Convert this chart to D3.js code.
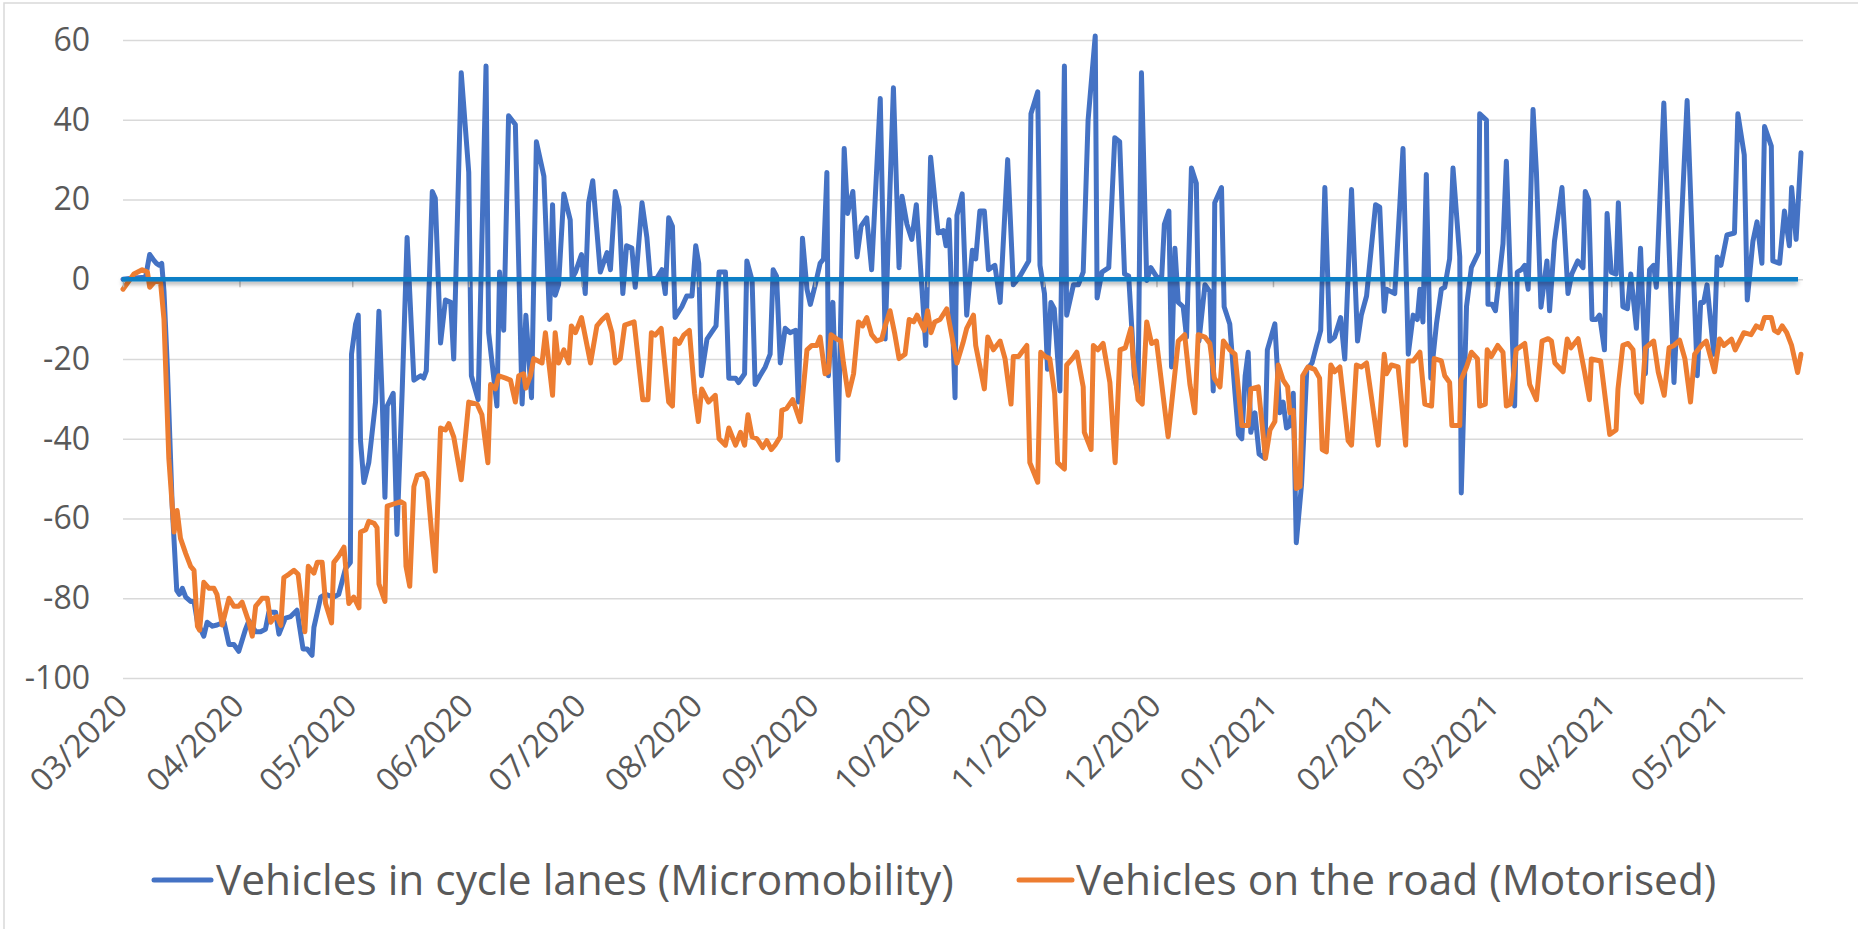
<!DOCTYPE html>
<html>
<head>
<meta charset="utf-8">
<script src="https://cdn.jsdelivr.net/npm/d3@7"></script>
<style>
  body { margin: 0; background: #fff; }
  svg { display: block; font-family: "Open Sans", sans-serif; }
</style>
</head>
<body>
<div id="chart"></div>
<script>
// change vs baseline (%), points read as [days after 1 March 2020, value]
var startDate = new Date(2020, 2, 1);
var lastDay = 446.5;

var cycleLanes = [
  [0,0],[3,0.3],[6,0.5],[7.1,6.2],[8,5],[8.9,4],[9.7,3.5],[10.3,4],[10.9,-3],[11.8,-22],[13.1,-57],[14.3,-78],[15,-79],[15.8,-77.5],[16.7,-79.7],[18,-80.8],[18.9,-80.8],[19.8,-86],[21.5,-89.5],[22.4,-86],[23.8,-87],[25,-86.7],[26.9,-86],[28.2,-91.6],[29.5,-91.6],[30.8,-93.3],[32.6,-87.8],[33.5,-85.6],[35.3,-88.4],[36.6,-88.4],[37.9,-87.8],[38.8,-83.5],[40.6,-83.5],[41.5,-89],[43.2,-85],
  [44.6,-84.6],[46.3,-83],[47.9,-92.7],[49,-92.7],[50.3,-94.3],[50.8,-87.3],[52.6,-79.7],[53.9,-79],[56.1,-79.7],[57.4,-79],[59.2,-72.6],[60.5,-71],[60.8,-18.8],[61.9,-11.2],[62.6,-9],[63.2,-40.5],[64.1,-51],[65.4,-46],[67.2,-30.8],[68.1,-8],[69,-30.8],[69.7,-54.7],[70.3,-31.8],[71.9,-28.6],[72.9,-64],[74.3,-27.7],[75.6,10.5],[77.4,-25.3],[79.2,-24.2],[80,-24.8],[80.7,-23],[82.3,22],[83.1,20.3],[84.5,-16],[85.8,-5.2],[87.2,-5.8],
  [88,-20],[90,51.8],[92,26.8],[92.7,-24.2],[94.5,-30.2],[96.6,53.5],[97.3,-13.4],[99.5,-31.8],[100.2,1.8],[101.3,-12.8],[102.6,41],[104.4,38.8],[106.2,-31.3],[107.2,-9],[108.7,-29.7],[110,34.5],[112,25.8],[113.5,-10.1],[114.3,18.7],[115,-4],[115.9,-1.4],[117.3,21.4],[119,14.9],[119.5,0.2],[120.4,1.8],[122,6.2],[123,-3.6],[123.9,19.2],[125,24.7],[127,1.8],[128.8,6.7],[129.7,2.4],[131,22],[132,18.1],[133,-3.6],
  [134,8.4],[135.4,7.8],[136.3,-2],[138.1,19.2],[139.4,10.5],[140.3,0.2],[142,0.2],[143.4,2.4],[144.3,-3.6],[145.2,15.4],[146.2,13.3],[146.9,-9.6],[148.7,-6.9],[150,-4.2],[151.4,-4.2],[152.4,8.4],[153.2,4],[153.9,-24.2],[155.4,-15],[156.7,-13.2],[157.8,-11.7],[158.6,1.8],[160.3,1.8],[161.2,-24.8],[163,-24.8],[163.8,-25.9],[165.4,-23.7],[166,4.6],[167.4,-0.3],[168.2,-26.4],[169.5,-24.2],[170.9,-22],[172.2,-18.8],[173,2.4],[173.9,0.8],[174.9,-21],[176.2,-12.3],[177.5,-13.4],
  [179,-12.8],[179.7,-30.8],[180.8,10.3],[182,-2.5],[182.9,-6.3],[184.2,-1.4],[185.5,4],[186.4,5.1],[187.3,26.8],[187.7,-24.2],[188.9,-5.8],[190.2,-45.4],[191.9,32.8],[192.8,16.5],[194.2,22],[195.3,5.6],[196.4,13.3],[197.9,15.4],[199.2,2.4],[201.5,45.3],[202.8,-15],[203.7,12],[205,48],[206.5,2.9],[207.3,20.8],[208.6,13.8],[209.9,10],[211.1,18.7],[213.6,-16.6],[214.9,30.6],[216.9,11.6],[218.3,12.2],[219,8.4],[219.8,14.9],[221.4,-29.7],[221.9,16],[223.3,21.4],
  [224.5,-9],[226,7.3],[226.9,5.1],[228,17.1],[229.2,17.1],[230.3,2.4],[232,3.5],[233.4,-5.8],[235.4,30],[236.9,-1.4],[238.7,0.8],[241,4.6],[241.6,41.5],[243.4,47],[244,3.5],[245.2,-3.6],[246,-22.6],[246.9,-5.8],[247.8,-7.4],[249.3,-28],[250.5,53.5],[251.1,-9],[252.9,-1.4],[254.2,-1.4],[255.5,1.8],[256.8,39.9],[258.7,61],[259.2,-4.7],[260.5,1.8],[262.3,2.9],[263.9,35.5],[265.2,34.5],[266.5,1.3],[267.6,0.8],
  [268.5,-13.4],[269.1,-24.2],[270.1,-28.6],[271,51.8],[272.4,-0.3],[273.5,2.9],[275.3,0.2],[276.4,0.8],[277.1,13.8],[278.3,17.1],[279,-22],[279.9,7.8],[280.8,-5.8],[282.1,-6.9],[283,-14.5],[284.3,27.9],[285.6,24.1],[286.3,-15.5],[287.9,-1.4],[289.2,-3.1],[290.1,-28],[290.5,19.2],[292.3,23],[293,-6.9],[294.5,-11.2],[295.9,-28.6],[296.8,-38.9],[297.7,-40],[298.6,-24.2],[299.4,-18.3],[300.1,-38.4],[301.2,-33.5],[302.3,-43.8],[303.8,-44.9],[304.5,-17.7],[306.5,-11.2],[307.8,-33.5],[308.7,-30.8],[309.6,-37.3],[310.5,-36.7],[311.4,-28.6],[312.2,-66.1],
  [313.6,-51.4],[315,-22.6],[316.4,-21],[317.6,-16.6],[318.7,-12.8],[319.8,23],[321.1,-15.5],[322.4,-14.5],[324,-9.6],[325.1,-20],[326.9,22.5],[328.5,-15.5],[329.5,-9],[330.9,-4.2],[333.3,18.7],[334.4,18.1],[335.6,-8],[336.2,-2.5],[338.4,-3.6],[340.6,32.8],[342,-18.8],[343.3,-9],[344.4,-10.1],[345.1,-2.5],[345.9,-10.7],[346.8,26.3],[348,-24.8],[349.5,-11.2],[350.8,-2.5],[351.7,-2],[353,5.1],[353.9,27.9],[355.7,5.6],[356.1,-53.6],[357.5,-6.8],[358.8,3],
  [360.7,6.7],[361,41.5],[362.8,39.9],[363.2,-6.3],[364.3,-6.3],[365.2,-7.9],[367.2,8.9],[368.1,29.6],[370.3,-31.8],[371,1.8],[372.1,2.4],[373,3.5],[373.9,-2.5],[375.2,42.6],[376.1,26.8],[377.3,-7],[378.9,4.6],[379.6,-7.9],[380.9,9.5],[382.9,23],[384.5,-3.6],[385.5,1.3],[387.1,4.6],[388.5,2.9],[389.1,22],[390,19.9],[390.9,-10.1],[392,-10.1],[392.9,-9],[394.2,-17.7],[394.9,16.5],[396,1.8],[397.3,1.3],[397.9,19.2],[399.1,-6.9],[400.3,-7.4],[401.2,1.3],[402.7,-12.3],[403.8,7.8],
  [405.1,-23.7],[406.2,2.4],[407.3,3.5],[408,-2],[410,44.2],[412.7,-25.9],[416.2,44.8],[418.9,-24.2],[419.8,-5.8],[420.6,-5.8],[421.5,-1.4],[423.3,-18.8],[424.2,5.6],[425.2,3.5],[426.8,11.1],[428.8,11.6],[429.7,41.5],[431.4,31.2],[432.2,-5.2],[433.7,9.5],[434.8,14.4],[436.1,4],[436.8,38.3],[438.6,33.4],[439,4.6],[440.8,4],[442.1,17.1],[443.4,8.4],[444,23],[445.2,10],[446.5,31.7]
];

var roadTraffic = [
  [0,-2.5],[2.9,1.3],[5.1,2.4],[6.5,1.8],[7.1,-2],[8.7,-0.3],[10,-0.9],[10.9,-10],[12.2,-45],[13.6,-63.4],[14.4,-58],[15.3,-65],[16.7,-68.8],[18,-72],[18.9,-73],[19.8,-87],[20.4,-88],[21.5,-76],[22.9,-77.5],[24.2,-77.5],[25,-79],[26.4,-86.7],[28.2,-80],[29.5,-82],[30.8,-82],[31.7,-81],[33.5,-86],[34.4,-89.5],[35.3,-82],[36.2,-81],[37,-80],[38.4,-80],[39.3,-86],[40.1,-85],[41,-84.6],[42,-86.8],[42.8,-74.8],
  [44.1,-74],[45.5,-73],[46.6,-74],[48.4,-88.4],[49.3,-72],[50.8,-73.7],[51.7,-71],[53,-71],[53.9,-81.3],[55.5,-86.2],[56.1,-71],[57.4,-69.4],[58.8,-67.2],[60.1,-81.3],[61.4,-79.7],[62.8,-82.4],[63.2,-63.4],[64.6,-62.8],[65.4,-60.7],[66.8,-61.2],[67.6,-62.3],[68.1,-76.4],[69.7,-80.8],[70.3,-56.9],[72.2,-56.3],[73.9,-55.8],[74.8,-56.3],[75.3,-72],[76.3,-77],[77.4,-52],[78.3,-49.2],[80,-48.7],[80.9,-50.3],[82.1,-63.4],[83.1,-73.2],[84.5,-37.3],[85.8,-37.8],[86.7,-36.2],
  [88,-39.5],[90,-50.3],[92,-30.8],[94.2,-31.3],[95.5,-34],[97.1,-46],[97.8,-26.4],[99.1,-27.5],[100,-24.2],[101.8,-24.8],[103.1,-25.3],[104.4,-30.8],[105.3,-24.2],[106.6,-23.7],[107.2,-27.3],[108.4,-24.2],[109.3,-19.9],[111.5,-21],[112.4,-13.4],[114.3,-29.1],[115,-13.4],[115.9,-21],[117.3,-17.7],[118.6,-21],[119.3,-11.7],[120.4,-13.4],[122,-9.6],[124.4,-21],[126.1,-11.7],[127.5,-10.1],[128.8,-9],[130.1,-13.4],[131,-21],[132.3,-19.9],[133.5,-11.5],
  [136,-10.7],[138.3,-30.2],[139.7,-30.2],[140.6,-13.4],[141.6,-14],[143.2,-12.3],[145.2,-30.8],[146.2,-31.8],[146.9,-15],[148,-16.1],[149.2,-14],[150.7,-12.8],[152.1,-28.6],[153.1,-35.7],[154,-27.5],[155.8,-30.8],[157.6,-29.1],[158.6,-40],[160.3,-41.6],[161.2,-37.3],[163,-41.6],[164.3,-38.4],[165.4,-41.6],[166.3,-34],[167.4,-39.5],[168.7,-40],[170.2,-42.2],[171.3,-40.5],[172.5,-42.7],[173.5,-41.6],[174.9,-39.5],[175.3,-32.9],[176.6,-32.4],[178.2,-30.2],
  [180.2,-35.7],[182,-17.7],[183.3,-16.6],[184.6,-16.6],[185.5,-14.5],[186.8,-23.7],[187.7,-23.2],[188.4,-13.9],[189.9,-15],[191,-15.5],[191.7,-21],[193,-29.1],[194.4,-23.7],[195.7,-10.7],[196.8,-11.7],[197.9,-9.6],[199.2,-13.9],[200.6,-15.5],[201.9,-15],[202.8,-11.7],[204.1,-7.9],[205.3,-13.4],[206.5,-19.9],[208.1,-18.8],[209.2,-10.1],[210.4,-10.7],[211.3,-9],[213.2,-12.8],[214.1,-7.9],[215,-13.4],[216,-10.7],[217.4,-10.1],[219.2,-7.4],[220.6,-14.5],[221.9,-21],[223.5,-16],[224.5,-12.3],
  [226.3,-9],[226.9,-16.6],[229.2,-27.5],[230.1,-14.5],[231.6,-17.7],[233.4,-15.5],[234.7,-19.9],[236.3,-31.3],[236.9,-19.4],[238.3,-19.4],[240.5,-16.6],[241.3,-46],[243.4,-50.9],[244.2,-18.3],[245.4,-19.4],[246.6,-19.9],[247.9,-28.6],[248.7,-46],[250.5,-47.6],[251.1,-21.5],[252.6,-19.9],[253.8,-18.3],[255.5,-27],[255.8,-38.4],[257.6,-42.7],[258.2,-16.6],[259.4,-17.7],[260.8,-16.1],[262.6,-25.9],[264,-46],[265.3,-17.7],[266.7,-17.2],[268.2,-12.3],
  [268.8,-19.9],[270.1,-30.2],[271.2,-31.3],[272.4,-10.7],[273.7,-16.1],[275,-15.5],[278.1,-39.5],[280.8,-15.5],[282.5,-13.9],[283.9,-26.4],[285.2,-33.5],[286.1,-13.9],[287.9,-14.5],[289.2,-16.1],[290.4,-24.8],[291.9,-27],[292.8,-15.5],[294.5,-17.7],[295.9,-18.8],[297.7,-36.7],[299.4,-36.7],[300.1,-27.5],[302.1,-27],[304,-44.9],[305.2,-37.8],[306.5,-35.7],[307.4,-21.5],[308.7,-25.3],[309.9,-27],[310.5,-33.5],[311.4,-32.9],[312.2,-52.5],[313.2,-52],[313.9,-24.2],
  [315.3,-22],[317.1,-22.6],[318.4,-24.8],[319.1,-42.7],[320.2,-43.3],[321.4,-21.5],[322.4,-23.2],[323.8,-22],[326,-40.5],[326.9,-41.6],[328.2,-21.5],[329.5,-22],[330.9,-21],[334,-41.6],[335.6,-18.8],[336.2,-23.7],[337.5,-21.5],[339.3,-22],[341.3,-41.6],[342,-20.5],[343.3,-20.5],[345.1,-18.3],[346.4,-31.3],[348.2,-31.8],[348.9,-19.9],[350.8,-20.5],[351.7,-24.2],[353,-25.9],[353.6,-36.7],[355.7,-36.7],[356,-25.3],[357.5,-22],[358.8,-18.3],
  [360.4,-19.9],[361,-31.8],[362.5,-31.3],[363,-17.7],[364.1,-19.4],[365.8,-16.6],[367.2,-18.3],[368.1,-31.8],[369.2,-31.3],[370.7,-17.7],[373,-16.1],[374.3,-26.4],[376.1,-30.2],[377.6,-15.5],[379.2,-14.9],[380.1,-15.5],[381,-21],[383.2,-23.2],[384.3,-15],[385.3,-17.2],[387.2,-14.9],[388.9,-23.2],[390.2,-30.2],[390.7,-20],[393.2,-20.5],[395.6,-38.9],[397.3,-37.8],[397.8,-27.5],[399.1,-16.6],[400.5,-16.1],[401.8,-17.7],[402.7,-28.6],[404.1,-30.8],
  [405.1,-17.2],[407.3,-15.5],[408.5,-23.2],[410.1,-29.1],[411.4,-17.2],[412.7,-16.6],[414.2,-15.3],[415.6,-19.9],[417.1,-30.8],[418.2,-18.8],[420,-16.6],[421.3,-15.5],[423.5,-23.2],[424.8,-15],[426,-16.6],[428,-15],[429,-17.7],[431.3,-13.4],[433.2,-13.9],[434.6,-11.7],[435.9,-12.3],[436.8,-9.6],[438.6,-9.6],[439.4,-12.8],[440.4,-13.4],[441.5,-11.7],[442.7,-13.4],[444,-16.6],[445.6,-23.4],[446.5,-18.8]
];

var yTicks = [60, 40, 20, 0, -20, -40, -60, -80, -100];
var monthLabels = ["03/2020","04/2020","05/2020","06/2020","07/2020","08/2020","09/2020","10/2020",
                   "11/2020","12/2020","01/2021","02/2021","03/2021","04/2021","05/2021"];
var seriesNames = ["Vehicles in cycle lanes (Micromobility)", "Vehicles on the road (Motorised)"];
var seriesColors = ["#4472c4", "#ed7d31"];

var svgWidth = 1858;
var svgHeight = 929;
var textColor = "#595959";

function dayToDate(d) {
  return new Date(startDate.getTime() + d * 86400000);
}

var svg = d3.select("#chart")
  .append("svg")
  .attr("width", svgWidth)
  .attr("height", svgHeight);

// chart border (only left/top edges are in frame)
svg.append("rect")
  .attr("x", 4).attr("y", 3)
  .attr("width", svgWidth + 20).attr("height", svgHeight + 20)
  .attr("fill", "none")
  .attr("stroke", "#d9d9d9")
  .attr("stroke-width", 1.5);

var xScale = d3.scaleTime()
  .domain([startDate, dayToDate(lastDay)])
  .range([123, 1801]);

var yScale = d3.scaleLinear()
  .domain([-100, 60])
  .range([678, 40]);

var plotLeft = 123, plotRight = 1803;

// soft shadow under the zero axis line (user space, the line has no height)
svg.append("defs").append("filter")
  .attr("id", "axisShadow")
  .attr("filterUnits", "userSpaceOnUse")
  .attr("x", 0).attr("y", yScale(0) - 20)
  .attr("width", svgWidth).attr("height", 40)
  .append("feDropShadow")
  .attr("dx", 0).attr("dy", 3).attr("stdDeviation", 2)
  .attr("flood-color", "#000").attr("flood-opacity", 0.3);

// gridlines
svg.append("g")
  .attr("transform", `translate(${plotLeft}, 0)`)
  .call(d3.axisLeft(yScale).tickValues(yTicks).tickSize(-(plotRight - plotLeft)).tickFormat(""))
  .call(g => g.select(".domain").remove())
  .call(g => g.selectAll("line").attr("stroke", "#d9d9d9").attr("stroke-width", 1.5));

// y labels (plain hyphen minus, as in the original)
svg.append("g")
  .attr("transform", "translate(90, 0)")
  .call(d3.axisLeft(yScale).tickValues(yTicks).tickSize(0).tickPadding(0).tickFormat(d => String(d)))
  .call(g => g.select(".domain").remove())
  .call(g => g.selectAll("text")
    .attr("fill", textColor)
    .style("font-family", "'Open Sans', sans-serif")
    .style("font-size", "32px"));

// series
var line = d3.line()
  .x(d => xScale(dayToDate(d[0])))
  .y(d => yScale(d[1]));

[cycleLanes, roadTraffic].forEach(function(data, i) {
  svg.append("path")
    .datum(data)
    .attr("fill", "none")
    .attr("stroke", seriesColors[i])
    .attr("stroke-width", 5)
    .attr("stroke-linejoin", "round")
    .attr("stroke-linecap", "round")
    .attr("d", line);
});

// month ticks on the zero line
var parseMonth = d3.timeParse("%m/%Y");
var tickDates = monthLabels.map(parseMonth);

svg.append("g")
  .attr("transform", `translate(0, ${yScale(0)})`)
  .call(d3.axisBottom(xScale).tickValues(tickDates).tickSize(8).tickFormat(""))
  .call(g => g.select(".domain").remove())
  .call(g => g.selectAll("line").attr("stroke", "#bfbfbf").attr("stroke-width", 1.5));

// thick zero axis line
svg.append("line")
  .attr("x1", plotLeft - 1)
  .attr("x2", 1798)
  .attr("y1", yScale(0))
  .attr("y2", yScale(0))
  .attr("stroke", "#0a7fc6")
  .attr("stroke-width", 4.5)
  .attr("filter", "url(#axisShadow)");

// month labels, rotated
svg.append("g")
  .attr("transform", "translate(0, 678)")
  .call(d3.axisBottom(xScale).tickValues(tickDates).tickSize(0).tickFormat(d3.timeFormat("%m/%Y")))
  .call(g => g.select(".domain").remove())
  .call(g => g.selectAll("text")
    .attr("y", 0)
    .attr("x", 0)
    .attr("dy", "0.35em")
    .attr("transform", "translate(-2, 22) rotate(-45)")
    .style("text-anchor", "end")
    .attr("fill", textColor)
    .style("font-family", "'Open Sans', sans-serif")
    .style("font-size", "32px"));

// legend
var legendY = 880;
var legendItems = [
  {x1: 154, x2: 211, tx: 216},
  {x1: 1019, x2: 1072, tx: 1076}
];

var legendFont = 40;
var legendTexts = legendItems.map(function(item, i) {
  svg.append("line")
    .attr("x1", item.x1).attr("x2", item.x2)
    .attr("y1", legendY).attr("y2", legendY)
    .attr("stroke", seriesColors[i])
    .attr("stroke-width", 5)
    .attr("stroke-linecap", "round");
  return svg.append("text")
    .attr("x", item.tx)
    .attr("y", legendY)
    .attr("dy", "0.35em")
    .attr("fill", textColor)
    .style("font-size", legendFont + "px")
    .text(seriesNames[i]);
});

// size legend text to the width of the first entry
var w0 = legendTexts[0].node().getComputedTextLength();
legendFont = legendFont * 738 / w0;
legendTexts.forEach(t => t.style("font-size", legendFont + "px"));
</script>
</body>
</html>
